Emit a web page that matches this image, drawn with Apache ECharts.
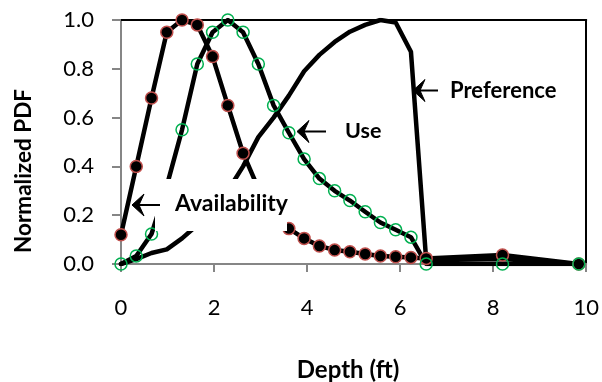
<!DOCTYPE html>
<html>
<head>
<meta charset="utf-8">
<script src="https://cdn.jsdelivr.net/npm/echarts@6/dist/echarts.min.js"></script>
<style>
html,body{margin:0;padding:0;background:#fff;}
#chart{width:602px;height:382px;}
</style>
</head>
<body>
<div id="chart"></div>
<script>
// Depth (ft) sample points
const depth = [0, 0.328, 0.656, 0.984, 1.312, 1.64, 1.968, 2.296, 2.624, 2.952, 3.28, 3.608, 3.936, 4.264, 4.592, 4.92, 5.248, 5.576, 5.904, 6.232, 6.56, 8.2, 9.84];
const availability = [0.12, 0.40, 0.68, 0.95, 1.00, 0.98, 0.85, 0.65, 0.454, 0.31, 0.21, 0.145, 0.105, 0.074, 0.057, 0.05, 0.041, 0.033, 0.03, 0.027, 0.023, 0.037, 0.0];
const use = [0, 0.033, 0.123, 0.32, 0.55, 0.82, 0.95, 1.0, 0.95, 0.82, 0.65, 0.538, 0.43, 0.35, 0.30, 0.26, 0.214, 0.17, 0.14, 0.11, 0.0, 0.0, 0.0];
const preference = [0, 0.02, 0.045, 0.06, 0.105, 0.16, 0.22, 0.30, 0.40, 0.52, 0.60, 0.69, 0.79, 0.857, 0.91, 0.952, 0.98, 1.0, 0.99, 0.87, 0.015, 0.02, 0.0];
const xTickLabels = ['0', '2', '4', '6', '8', '10'];
const yTickLabels = ['0.0', '0.2', '0.4', '0.6', '0.8', '1.0'];

const chart = echarts.init(document.getElementById('chart'), null, {renderer: 'canvas'});
const pairs = arr => depth.map((d, i) => [d, arr[i]]);
const FONT = 'Lato, "DejaVu Sans", sans-serif';
const GRAY = '#868686';

function arrow(tipX, y, tailX) {
  return {
    type: 'group', z: 20,
    children: [
      {type: 'line', shape: {x1: tipX + 4, y1: y, x2: tailX, y2: y}, style: {stroke: '#000', lineWidth: 2}, z: 20},
      {type: 'polygon', shape: {points: [[tipX, y], [tipX + 12, y - 11], [tipX + 7, y], [tipX + 12, y + 11]]}, style: {fill: '#000', stroke: '#000', lineWidth: 1, lineJoin: 'miter'}, z: 20}
    ]
  };
}
function label(text, x, y, align, size, rot) {
  return {
    type: 'text', z: 30, x: x, y: y, rotation: rot || 0,
    style: {text: text, font: 'bold ' + size + 'px ' + FONT, fill: '#000',
      align: align, verticalAlign: 'middle', textAlign: align, textVerticalAlign: 'middle'}
  };
}

const option = {
  animation: false,
  backgroundColor: '#fff',
  grid: {left: 121, right: 15, top: 20, bottom: 118, containLabel: false},
  xAxis: [{
    type: 'value', min: 0, max: 10, interval: 2, position: 'bottom',
    axisLine: {show: true, onZero: false, lineStyle: {color: GRAY, width: 2}},
    axisTick: {show: true, inside: false, length: 8, lineStyle: {color: GRAY, width: 2}},
    axisLabel: {margin: 33, color: '#000', fontFamily: FONT, fontSize: 22,
      formatter: v => xTickLabels[Math.round(v / 2)]},
    splitLine: {show: false}
  }, {
    type: 'value', min: 0, max: 10, position: 'top',
    axisLine: {show: true, onZero: false, lineStyle: {color: '#000', width: 2}},
    axisTick: {show: false}, axisLabel: {show: false}, splitLine: {show: false}
  }],
  yAxis: [{
    type: 'value', min: 0, max: 1, interval: 0.2, position: 'left',
    axisLine: {show: true, onZero: false, lineStyle: {color: GRAY, width: 2}},
    axisTick: {show: true, inside: false, length: 9, lineStyle: {color: GRAY, width: 2}},
    axisLabel: {margin: 27, color: '#000', fontFamily: FONT, fontSize: 22,
      formatter: v => yTickLabels[Math.round(v * 5)]},
    splitLine: {show: false}
  }, {
    type: 'value', min: 0, max: 1, position: 'right',
    axisLine: {show: true, onZero: false, lineStyle: {color: '#000', width: 2}},
    axisTick: {show: false}, axisLabel: {show: false}, splitLine: {show: false}
  }],
  series: [{
    name: 'Availability', type: 'line', data: pairs(availability),
    showAllSymbol: true, symbol: 'circle', symbolSize: 12,
    lineStyle: {color: '#000', width: 4.5, join: 'round', cap: 'round'},
    itemStyle: {color: '#000', borderColor: '#C0504D', borderWidth: 1.5},
    emphasis: {disabled: true}
  }, {
    name: 'Use', type: 'line', data: pairs(use),
    showAllSymbol: true, symbol: 'circle', symbolSize: 12,
    lineStyle: {color: '#000', width: 4.5, join: 'round', cap: 'round'},
    itemStyle: {color: 'rgba(0,0,0,0)', borderColor: '#00B050', borderWidth: 1.5},
    emphasis: {disabled: true}
  }, {
    name: 'Preference', type: 'line', data: pairs(preference),
    symbol: 'none',
    lineStyle: {color: '#000', width: 4.5, join: 'round', cap: 'round'},
    emphasis: {disabled: true}
  }],
  graphic: [
    {type: 'rect', z: 15, shape: {x: 155, y: 179, width: 132, height: 52}, style: {fill: '#fff'}},
    arrow(132, 205, 160),
    label('Availability', 175, 204, 'left', 23),
    arrow(297, 131.5, 326),
    label('Use', 345, 131, 'left', 21.5),
    arrow(413, 90.5, 438),
    label('Preference', 450, 91, 'left', 22),
    label('Depth (ft)', 348, 370, 'center', 24),
    label('Normalized PDF', 24, 171, 'center', 22.5, Math.PI / 2)
  ]
};
chart.setOption(option);
</script>
</body>
</html>
